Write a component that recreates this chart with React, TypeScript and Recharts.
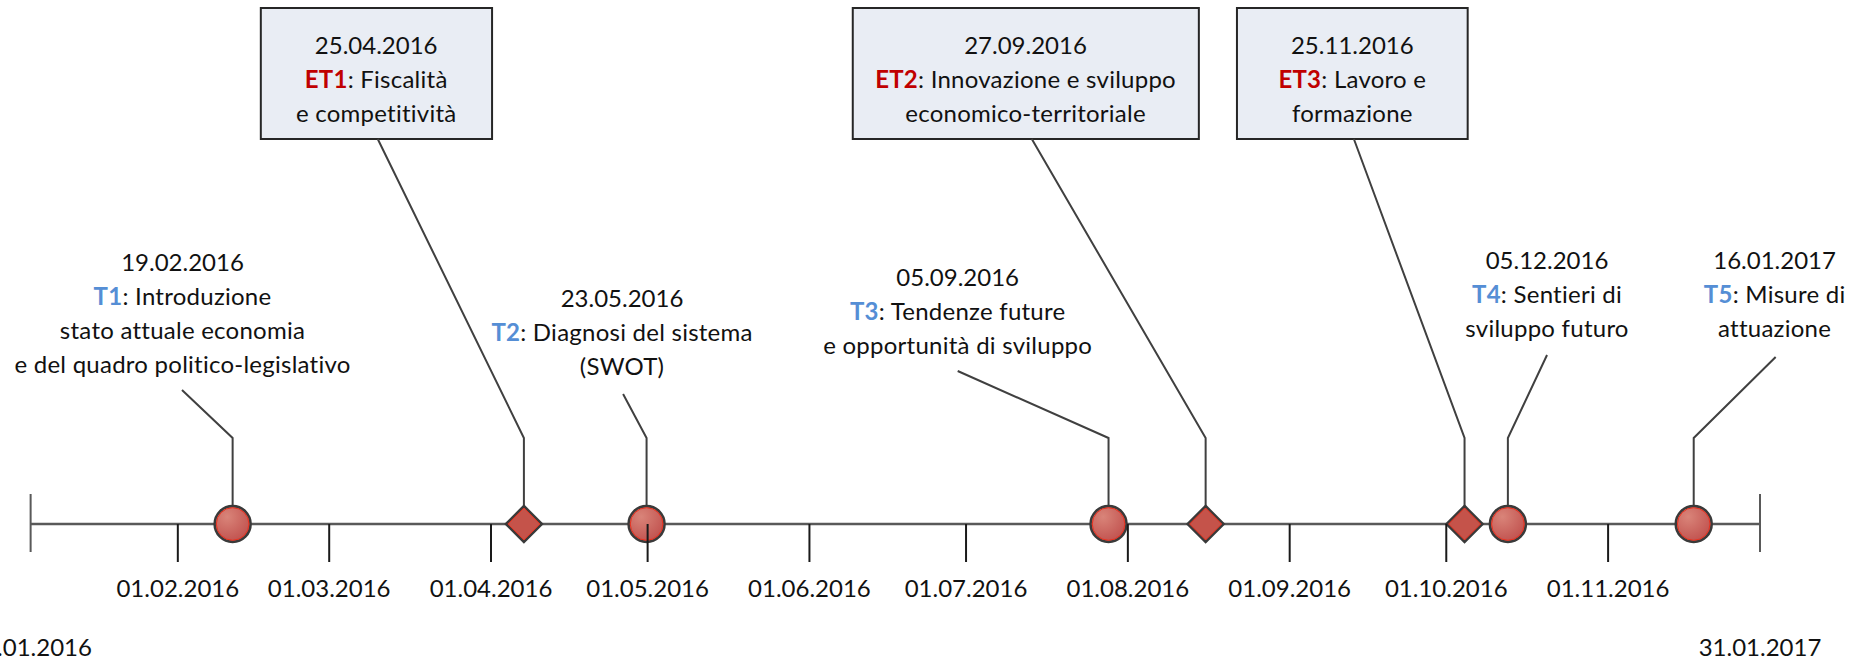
import { ComposedChart, XAxis, YAxis, Line, Scatter, ReferenceArea } from "recharts";

// x = position on the timeline (day units), y = height above the axis line
const tickPos = [31, 60, 91, 121, 152, 182, 213, 244, 274, 305];
const tickLabels = ["01.02.2016","01.03.2016","01.04.2016","01.05.2016","01.06.2016","01.07.2016","01.08.2016","01.09.2016","01.10.2016","01.11.2016"];
const capPos = [2.8, 334.1];
const capLabels = ["31.01.2016", "31.01.2017"];

const eventCodes = ["T1","ET1","T2","T3","ET2","ET3","T4","T5"];
const eventDates = ["19.02.2016","25.04.2016","23.05.2016","05.09.2016","27.09.2016","25.11.2016","05.12.2016","16.01.2017"];
const eventText = [
  ["Introduzione","stato attuale economia","e del quadro politico-legislativo"],
  ["Fiscalità","e competitività"],
  ["Diagnosi del sistema","(SWOT)"],
  ["Tendenze future","e opportunità di sviluppo"],
  ["Innovazione e sviluppo","economico-territoriale"],
  ["Lavoro e","formazione"],
  ["Sentieri di","sviluppo futuro"],
  ["Misure di","attuazione"],
];
const markerPos = [41.5, 97.3, 120.8, 209.3, 227.9, 277.5, 285.8, 321.4];
const labelPos = [31.9, 69.0, 116.1, 180.4, 193.4, 256.0, 293.3, 336.9];
const labelTop = [261, 478, 225, 246, 478, 478, 263, 263];
const leaderEndX = [31.8, 69.3, 116.3, 180.4, 194.6, 256.3, 293.3, 337.1];
const leaderEndH = [134, 385, 130, 153, 385, 385, 169, 167];
const elbowH = 86;
const markerTopH = 18;

const boxLeft = [46.9, 160.3, 233.9];
const boxRight = [91.2, 226.6, 278.1];
const boxBottom = 385;
const boxTop = 516;

const FONT = "Lato, 'Open Sans', sans-serif";
const LINE_H = 34;

const markers = eventCodes.map((code, i) => ({ x: markerPos[i], y: 0, code }));
const labels = eventCodes.map((code, i) => ({ x: labelPos[i], y: labelTop[i], code, date: eventDates[i], text: eventText[i] }));
const axisLine = [{ x: capPos[0], y: 0 }, { x: capPos[1], y: 0 }];

function AxisTick(props: any) {
  const { x, y, payload } = props;
  const ci = capPos.indexOf(payload.value);
  if (ci >= 0) {
    return (
      <g>
        <line x1={x} x2={x} y1={y - 30} y2={y + 28} stroke="#595959" strokeWidth={2} />
        <text x={x} y={y + 124} dy="0.35em" textAnchor="middle" fontFamily={FONT} fontSize={24} fill="#111">{capLabels[ci]}</text>
      </g>
    );
  }
  const ti = tickPos.indexOf(payload.value);
  return (
    <g>
      <line x1={x} x2={x} y1={y} y2={y + 38} stroke="#1a1a1a" strokeWidth={2} />
      <text x={x} y={y + 65} dy="0.35em" textAnchor="middle" fontFamily={FONT} fontSize={24} fill="#111">{tickLabels[ti]}</text>
    </g>
  );
}

function MarkerShape(props: any) {
  const { cx, cy, payload } = props;
  const id = "grad-" + payload.code;
  if (payload.code.startsWith("E")) {
    const pts = (r: number) => `${cx},${cy - r} ${cx + r},${cy} ${cx},${cy + r} ${cx - r},${cy}`;
    return (
      <g>
        <polygon points={pts(18)} fill="#c5534a" stroke="#3a3a3a" strokeWidth={2.5} />
        <polygon points={pts(16)} fill="none" stroke="#e8321f" strokeWidth={1} />
      </g>
    );
  }
  return (
    <g>
      <defs>
        <radialGradient id={id} cx="35%" cy="30%" r="75%">
          <stop offset="0%" stopColor="#d98479" />
          <stop offset="100%" stopColor="#c0504d" />
        </radialGradient>
      </defs>
      <circle cx={cx} cy={cy} r={18} fill={`url(#${id})`} stroke="#3a3a3a" strokeWidth={2.5} />
      <circle cx={cx} cy={cy} r={16.3} fill="none" stroke="#e8321f" strokeWidth={1} />
    </g>
  );
}

function LabelShape(props: any) {
  const { cx, cy, payload } = props;
  const et = payload.code.startsWith("E");
  const [first, ...rest] = payload.text;
  return (
    <g fontFamily={FONT} fontSize={24} fill="#111" textAnchor="middle">
      <text x={cx} y={cy} dy="0.35em">{payload.date}</text>
      <text x={cx} y={cy + LINE_H} dy="0.35em" letterSpacing={0.25}>
        <tspan fill={et ? "#c00000" : "#558ed5"} fontWeight={700}>{payload.code}</tspan>
        <tspan>: {first}</tspan>
      </text>
      {rest.map((t: string, i: number) => (
        <text key={i} x={cx} y={cy + LINE_H * (i + 2)} dy="0.35em" letterSpacing={0.25}>{t}</text>
      ))}
    </g>
  );
}

export default function App() {
  return (
    <div style={{ position: "absolute", left: 0, top: 0, background: "#fff" }}>
      <ComposedChart width={1852} height={660} margin={{ top: 0, right: 9, left: 16, bottom: 0 }}>
        <XAxis type="number" dataKey="x" domain={[0, 350]} ticks={[...capPos, ...tickPos]} interval={0}
          axisLine={false} tickLine={false} tickSize={0} tickMargin={0} height={136} tick={<AxisTick />} />
        <YAxis type="number" dataKey="y" domain={[0, 524]} hide />
        {boxLeft.map((b, i) => (
          <ReferenceArea key={i} x1={b} x2={boxRight[i]} y1={boxBottom} y2={boxTop}
            fill="#e9edf4" fillOpacity={1} stroke="#262626" strokeWidth={2} />
        ))}
        <Line data={axisLine} dataKey="y" stroke="#595959" strokeWidth={2.5} dot={false} isAnimationActive={false} />
        {eventCodes.map((code, i) => (
          <Line key={code} data={[
            { x: markerPos[i], y: markerTopH },
            { x: markerPos[i], y: elbowH },
            { x: leaderEndX[i], y: leaderEndH[i] },
          ]} dataKey="y" stroke="#404040" strokeWidth={2} dot={false} isAnimationActive={false} />
        ))}
        <Scatter data={markers} dataKey="y" shape={MarkerShape} isAnimationActive={false} />
        <Scatter data={labels} dataKey="y" shape={LabelShape} isAnimationActive={false} />
      </ComposedChart>
    </div>
  );
}
